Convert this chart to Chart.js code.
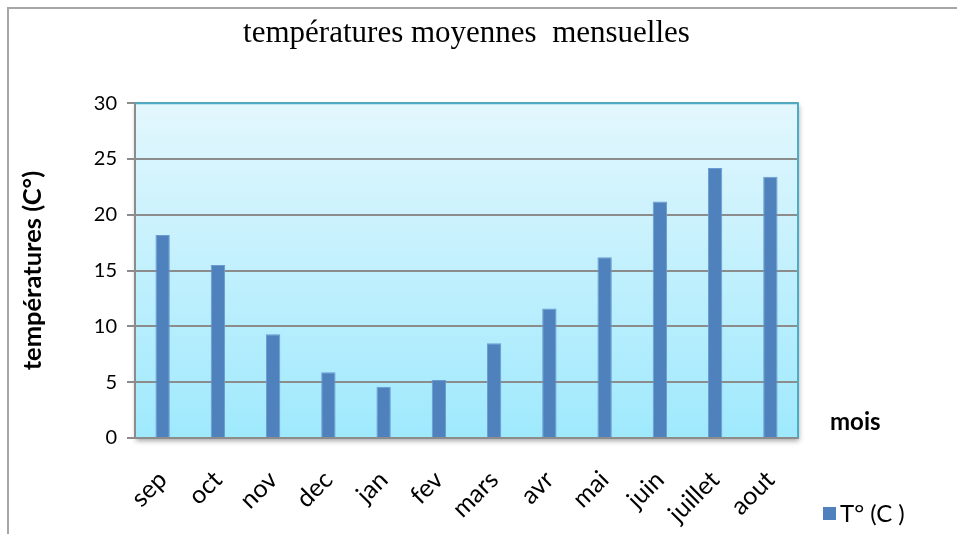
<!DOCTYPE html>
<html>
<head>
<meta charset="utf-8">
<title>températures moyennes mensuelles</title>
<script src="https://cdn.jsdelivr.net/npm/chart.js@4.4.1/dist/chart.umd.min.js"></script>
<style>
  html, body { margin: 0; padding: 0; background: #ffffff; }
  #wrap { width: 957px; height: 534px; position: relative; }
</style>
</head>
<body>
<div id="wrap"><canvas id="chart" width="957" height="534"></canvas></div>
<script>
const months = ['sep', 'oct', 'nov', 'dec', 'jan', 'fev', 'mars', 'avr', 'mai', 'juin', 'juillet', 'aout'];
const temperatures = [18.2, 15.5, 9.3, 5.9, 4.6, 5.2, 8.5, 11.6, 16.2, 21.2, 24.2, 23.4];
const seriesLabel = 'T° (C )';
const yTicks = [0, 5, 10, 15, 20, 25, 30];

const sansFont = 'Lato, "Open Sans", sans-serif';
const barBlue = '#4f81bd';

// frame, plot background, border, axis label "mois" and legend
const decorPlugin = {
    id: 'decor',
    beforeDraw(chart) {
        const ctx = chart.ctx;
        const a = chart.chartArea;
        ctx.save();
        ctx.fillStyle = '#ffffff';
        ctx.fillRect(0, 0, chart.width, chart.height);

        // outer frame
        ctx.strokeStyle = '#a6a6a6';
        ctx.lineWidth = 2;
        ctx.beginPath();
        ctx.moveTo(8, chart.height + 2);
        ctx.lineTo(8, 8);
        ctx.lineTo(chart.width + 2, 8);
        ctx.stroke();

        // plot area with shadow
        ctx.shadowColor = 'rgba(0,0,0,0.35)';
        ctx.shadowBlur = 5;
        ctx.shadowOffsetX = 1;
        ctx.shadowOffsetY = 3;
        const g = ctx.createLinearGradient(0, a.top, 0, a.bottom);
        g.addColorStop(0, '#e3f7fd');
        g.addColorStop(1, '#9fe9fd');
        ctx.fillStyle = g;
        ctx.fillRect(a.left, a.top, a.right - a.left, a.bottom - a.top);
        ctx.restore();
    },
    afterDatasetsDraw(chart) {
        const ctx = chart.ctx;
        const a = chart.chartArea;
        ctx.save();
        ctx.strokeStyle = '#4bacc6';
        ctx.lineWidth = 2;
        ctx.beginPath();
        ctx.moveTo(a.left, a.top);
        ctx.lineTo(a.right, a.top);
        ctx.lineTo(a.right, a.bottom);
        ctx.stroke();
        ctx.restore();
    },
    afterDraw(chart) {
        const ctx = chart.ctx;
        ctx.save();
        ctx.fillStyle = '#000000';
        ctx.textBaseline = 'alphabetic';
        ctx.textAlign = 'left';
        ctx.font = 'bold 24px ' + sansFont;
        ctx.fillText('mois', 830, 430);

        // legend
        const ds = chart.data.datasets[0];
        ctx.fillStyle = ds.backgroundColor;
        ctx.fillRect(823, 507, 13, 13);
        ctx.fillStyle = '#000000';
        ctx.font = '24px ' + sansFont;
        ctx.fillText(ds.label, 840, 522);
        ctx.restore();
    }
};

new Chart(document.getElementById('chart'), {
    type: 'bar',
    data: {
        labels: months,
        datasets: [{
            label: seriesLabel,
            data: temperatures,
            backgroundColor: barBlue,
            borderColor: '#6b9bd2',
            borderWidth: 1,
            barPercentage: 0.26,
            categoryPercentage: 1
        }]
    },
    options: {
        responsive: false,
        animation: false,
        devicePixelRatio: 1,
        layout: { padding: { left: 0, right: 159, top: 0, bottom: 0 } },
        plugins: {
            legend: { display: false },
            tooltip: { enabled: false },
            title: {
                display: true,
                text: 'températures moyennes  mensuelles',
                fullSize: false,
                color: '#000000',
                font: { family: '"Liberation Serif", "Times New Roman", serif', size: 31, weight: 'normal' },
                padding: { top: 15, bottom: 51 }
            }
        },
        scales: {
            x: {
                grid: { display: false, drawTicks: false },
                border: { display: true, color: '#8c8c8c', width: 2 },
                ticks: {
                    color: '#000000',
                    font: { family: sansFont, size: 25 },
                    minRotation: 45,
                    maxRotation: 45,
                    padding: 27,
                    labelOffset: 0
                },
                afterFit(scale) { scale.height = 96; }
            },
            y: {
                min: 0,
                max: 30,
                afterBuildTicks(scale) { scale.ticks = yTicks.map(v => ({ value: v })); },
                grid: { color: '#8c8c8c', lineWidth: 2, tickLength: 8 },
                border: { display: true, color: '#8c8c8c', width: 2 },
                ticks: {
                    color: '#000000',
                    font: { family: sansFont, size: 20 },
                    padding: 10
                },
                title: {
                    display: true,
                    text: 'températures (C°)',
                    color: '#000000',
                    font: { family: sansFont, size: 25.5, weight: 'bold' },
                    padding: { top: 17, bottom: 0 }
                },
                afterFit(scale) { scale.width = 135; }
            }
        }
    },
    plugins: [decorPlugin]
});
</script>
</body>
</html>
